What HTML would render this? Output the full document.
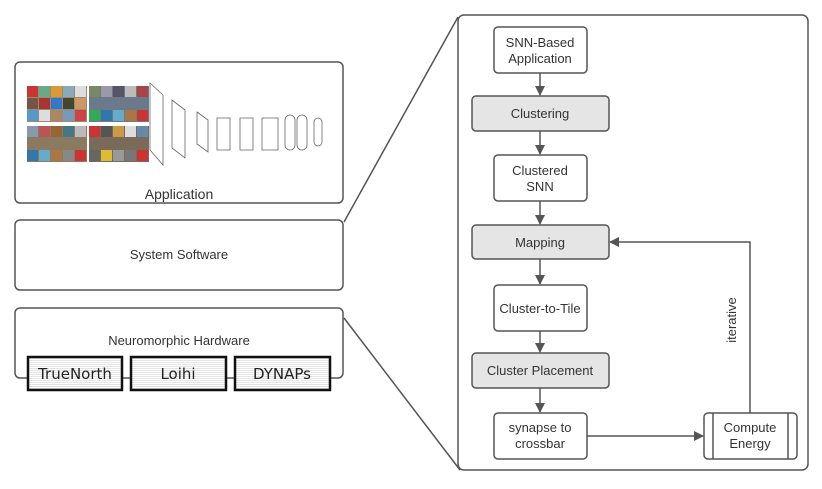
<!DOCTYPE html>
<html><head><meta charset="utf-8"><style>
body{margin:0;width:822px;height:484px;background:#fff;overflow:hidden;font-family:"Liberation Sans",sans-serif;}
</style></head><body>
<svg width="822" height="484" viewBox="0 0 822 484" xmlns="http://www.w3.org/2000/svg" font-family="Liberation Sans, sans-serif">
<defs>
<marker id="a" markerWidth="10" markerHeight="10" refX="9" refY="5" orient="auto" markerUnits="userSpaceOnUse"><path d="M0,0 L10,5 L0,10 z" fill="#555"/></marker>
<pattern id="st" width="4" height="2" patternUnits="userSpaceOnUse"><rect width="4" height="2" fill="#fff"/><rect width="4" height="1" fill="#e4e4e4"/></pattern>
</defs>
<g stroke="#555" stroke-width="1.5" fill="none">
<line x1="344" y1="222" x2="458" y2="17"/>
<line x1="344" y1="318" x2="460" y2="470"/>
<rect x="15" y="62" width="328" height="141" rx="5" fill="#fff"/>
<rect x="15" y="220" width="328" height="70" rx="5" fill="#fff"/>
<rect x="15" y="308" width="328" height="70" rx="5" fill="#fff"/>
<rect x="458" y="15" width="350" height="455" rx="6" fill="#fff"/>
</g>
<g fill="#222">
<rect x="28" y="357" width="94" height="33" fill="url(#st)" stroke="#111" stroke-width="2.5"/>
<rect x="131" y="357" width="95" height="33" fill="url(#st)" stroke="#111" stroke-width="2.5"/>
<rect x="235" y="357" width="95" height="33" fill="url(#st)" stroke="#111" stroke-width="2.5"/>
</g>
<g font-family="DejaVu Sans, sans-serif" font-size="15" fill="#222" text-anchor="middle">
<text x="75" y="379">TrueNorth</text><text x="178" y="379">Loihi</text><text x="282" y="379">DYNAPs</text>
</g>
<g font-size="13" fill="#333" text-anchor="middle">
<text x="179" y="199" font-size="14">Application</text>
<text x="179" y="259">System Software</text>
<text x="179" y="345">Neuromorphic Hardware</text>
</g>
<!-- mosaic -->
<g>
<rect x="27" y="86" width="60" height="36" fill="#9a8a70"/>
<rect x="89" y="86" width="60" height="36" fill="#6a7a8a"/>
<rect x="27" y="126" width="60" height="36" fill="#8a7a60"/>
<rect x="89" y="126" width="60" height="36" fill="#7a6a5a"/>
<rect x="27" y="86" width="11" height="11" fill="#c33"/><rect x="39" y="86" width="11" height="11" fill="#6a8"/><rect x="51" y="86" width="11" height="11" fill="#d93"/><rect x="63" y="86" width="11" height="11" fill="#8ab"/><rect x="75" y="86" width="11" height="11" fill="#ddd"/>
<rect x="27" y="98" width="11" height="11" fill="#754"/><rect x="39" y="98" width="11" height="11" fill="#a33"/><rect x="51" y="98" width="11" height="11" fill="#37c"/><rect x="63" y="98" width="11" height="11" fill="#443"/><rect x="75" y="98" width="11" height="11" fill="#c96"/>
<rect x="27" y="110" width="11" height="11" fill="#59c"/><rect x="39" y="110" width="11" height="11" fill="#ddd"/><rect x="51" y="110" width="11" height="11" fill="#a86"/><rect x="63" y="110" width="11" height="11" fill="#79b"/><rect x="75" y="110" width="11" height="11" fill="#c44"/>
<rect x="89" y="86" width="11" height="11" fill="#786"/><rect x="101" y="86" width="11" height="11" fill="#99a"/><rect x="113" y="86" width="11" height="11" fill="#556"/><rect x="125" y="86" width="11" height="11" fill="#bbb"/><rect x="137" y="86" width="11" height="11" fill="#a44"/>
<rect x="89" y="110" width="11" height="11" fill="#3a5"/><rect x="101" y="110" width="11" height="11" fill="#37a"/><rect x="113" y="110" width="11" height="11" fill="#6ac"/><rect x="125" y="110" width="11" height="11" fill="#a74"/><rect x="137" y="110" width="11" height="11" fill="#c33"/>
<rect x="27" y="126" width="11" height="11" fill="#89a"/><rect x="39" y="126" width="11" height="11" fill="#b55"/><rect x="51" y="126" width="11" height="11" fill="#963"/><rect x="63" y="126" width="11" height="11" fill="#478"/><rect x="75" y="126" width="11" height="11" fill="#bbb"/>
<rect x="27" y="150" width="11" height="11" fill="#37a"/><rect x="39" y="150" width="11" height="11" fill="#6ac"/><rect x="51" y="150" width="11" height="11" fill="#a74"/><rect x="63" y="150" width="11" height="11" fill="#888"/><rect x="75" y="150" width="11" height="11" fill="#c33"/>
<rect x="89" y="126" width="11" height="11" fill="#c33"/><rect x="101" y="126" width="11" height="11" fill="#555"/><rect x="113" y="126" width="11" height="11" fill="#c94"/><rect x="125" y="126" width="11" height="11" fill="#ddd"/><rect x="137" y="126" width="11" height="11" fill="#68a"/>
<rect x="89" y="150" width="11" height="11" fill="#666"/><rect x="101" y="150" width="11" height="11" fill="#db3"/><rect x="113" y="150" width="11" height="11" fill="#999"/><rect x="125" y="150" width="11" height="11" fill="#777"/><rect x="137" y="150" width="11" height="11" fill="#c33"/>
</g>
<g stroke="#666" stroke-width="0.8" fill="#fff">
<polygon points="150,83 163,95 163,165 150,150"/>
<polygon points="172,100 185,110 185,158 172,148"/>
<polygon points="197,112 208,120 208,152 197,144"/>
<polygon points="217,118 230,118 230,150 217,150"/>
<polygon points="240,118 253,118 253,150 240,150"/>
<polygon points="262,118 278,118 278,150 262,150"/>
<rect x="285" y="115" width="10" height="35" rx="5"/>
<rect x="297" y="115" width="10" height="35" rx="5"/>
<rect x="314" y="118" width="8" height="28" rx="4"/>
</g>
<!-- flow -->
<g stroke="#555" stroke-width="1.5">
<rect x="494" y="27" width="93" height="46" rx="4" fill="#fff"/>
<rect x="472" y="96" width="137" height="35" rx="4" fill="#e5e5e5"/>
<rect x="494" y="155" width="93" height="46" rx="4" fill="#fff"/>
<rect x="472" y="225" width="137" height="34" rx="4" fill="#e5e5e5"/>
<rect x="494" y="285" width="93" height="46" rx="4" fill="#fff"/>
<rect x="472" y="353" width="137" height="35" rx="4" fill="#e5e5e5"/>
<rect x="494" y="413" width="93" height="46" rx="4" fill="#fff"/>
<rect x="704" y="413" width="93" height="46" rx="4" fill="#fff"/>
<line x1="713" y1="413" x2="713" y2="459"/><line x1="788" y1="413" x2="788" y2="459"/>
<g marker-end="url(#a)" fill="none">
<line x1="540" y1="73" x2="540" y2="95"/>
<line x1="540" y1="131" x2="540" y2="154"/>
<line x1="540" y1="201" x2="540" y2="224"/>
<line x1="540" y1="259" x2="540" y2="284"/>
<line x1="540" y1="331" x2="540" y2="352"/>
<line x1="540" y1="388" x2="540" y2="412"/>
<line x1="587" y1="436" x2="703" y2="436"/>
<polyline points="750,413 750,242 610,242"/>
</g>
</g>
<g font-size="13" fill="#333" text-anchor="middle">
<text x="540" y="47">SNN-Based</text><text x="540" y="63">Application</text>
<text x="540" y="118">Clustering</text>
<text x="540" y="175">Clustered</text><text x="540" y="191">SNN</text>
<text x="540" y="247">Mapping</text>
<text x="540" y="313">Cluster-to-Tile</text>
<text x="540" y="375">Cluster Placement</text>
<text x="540" y="432">synapse to</text><text x="540" y="448">crossbar</text>
<text x="750" y="432">Compute</text><text x="750" y="448">Energy</text>
<text transform="translate(736,320) rotate(-90)">iterative</text>
</g>
</svg>
</body></html>
